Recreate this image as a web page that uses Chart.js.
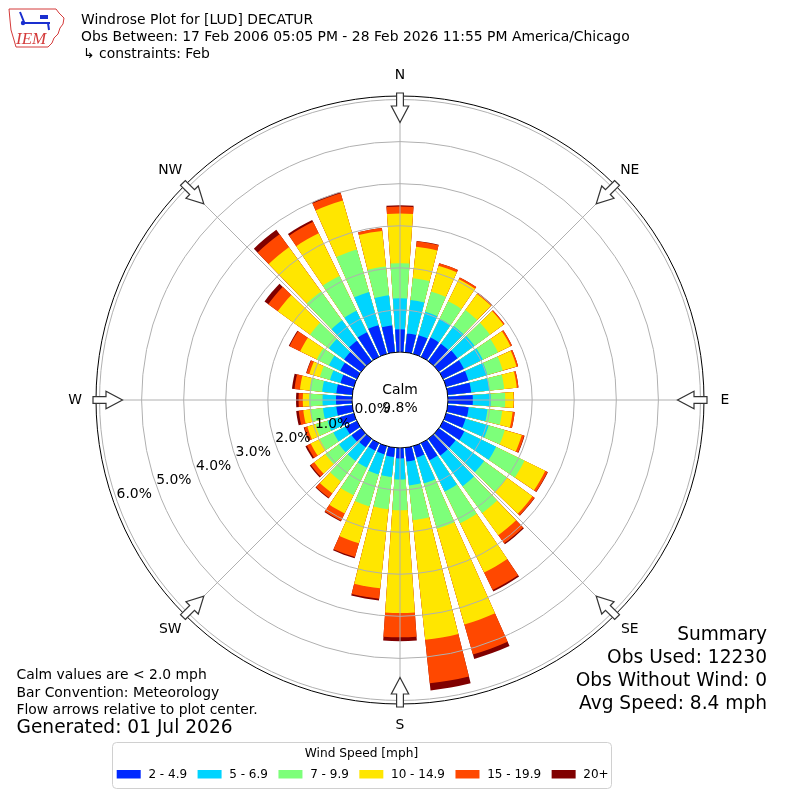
<!DOCTYPE html>
<html>

<head>
    <meta charset="UTF-8">
    <title>Windrose Plot for [LUD] DECATUR</title>
    <style>
        html, body {
            margin: 0;
            padding: 0;
            background: #ffffff;
        }

        #rose {
            display: block;
        }
    </style>
</head>

<body>
    <canvas id="rose" width="800" height="800"></canvas>
    <script src="https://cdn.jsdelivr.net/npm/chart.js"></script>

    <script>
        // direction bins, degrees from north
        const directions = [0, 10, 20, 30, 40, 50, 60, 70, 80, 90, 100, 110, 120, 130, 140, 150, 160, 170,
            180, 190, 200, 210, 220, 230, 240, 250, 260, 270, 280, 290, 300, 310, 320, 330, 340, 350];

        const speedBins = ["2 - 4.9", "5 - 6.9", "7 - 9.9", "10 - 14.9", "15 - 19.9", "20+"];
        const binColors = ["#0028ff", "#00d4ff", "#7dff7a", "#ffe600", "#ff4800", "#800000"];

        // percent of observations per direction for each speed bin
        const spd2to5 = [0.54, 0.45, 0.46, 0.51, 0.51, 0.55, 0.55, 0.55, 0.56, 0.59, 0.50, 0.48, 0.56, 0.49, 0.49, 0.45, 0.28, 0.33,
            0.25, 0.22, 0.20, 0.20, 0.25, 0.28, 0.30, 0.35, 0.38, 0.38, 0.38, 0.33, 0.44, 0.50, 0.60, 0.65, 0.71, 0.64];
        const spd5to7 = [0.74, 0.80, 0.58, 0.50, 0.52, 0.50, 0.50, 0.47, 0.44, 0.43, 0.45, 0.57, 0.84, 0.84, 0.90, 0.83, 0.64, 0.57,
            0.50, 0.48, 0.50, 0.45, 0.40, 0.37, 0.32, 0.30, 0.32, 0.32, 0.34, 0.26, 0.30, 0.45, 0.60, 0.57, 0.82, 0.72];
        const spd7to10 = [0.83, 0.52, 0.50, 0.46, 0.47, 0.45, 0.40, 0.38, 0.35, 0.34, 0.35, 0.40, 0.75, 0.67, 0.79, 0.84, 1.12, 0.83,
            0.73, 0.77, 0.79, 0.73, 0.60, 0.40, 0.36, 0.30, 0.30, 0.32, 0.30, 0.25, 0.32, 0.55, 0.85, 0.92, 1.05, 0.69];
        const spd10to15 = [1.18, 0.75, 0.64, 0.58, 0.47, 0.40, 0.33, 0.34, 0.30, 0.20, 0.25, 0.42, 0.55, 0.75, 0.65, 1.30, 2.37, 2.86,
            2.44, 1.89, 0.91, 0.48, 0.35, 0.33, 0.24, 0.20, 0.17, 0.15, 0.23, 0.26, 0.44, 0.95, 1.30, 1.13, 1.21, 0.85];
        const spd15to20 = [0.17, 0.13, 0.06, 0.05, 0.03, 0.03, 0.04, 0.04, 0.04, 0.01, 0.05, 0.06, 0.06, 0.06, 0.24, 0.46, 0.74, 1.04,
            0.58, 0.25, 0.34, 0.19, 0.13, 0.10, 0.10, 0.07, 0.11, 0.10, 0.13, 0.07, 0.28, 0.28, 0.38, 0.30, 0.18, 0.07];
        const spd20plus = [0.03, 0.01, 0.00, 0.00, 0.01, 0.00, 0.00, 0.00, 0.00, 0.00, 0.00, 0.01, 0.01, 0.01, 0.03, 0.04, 0.11, 0.17,
            0.09, 0.04, 0.03, 0.02, 0.02, 0.03, 0.04, 0.02, 0.06, 0.06, 0.06, 0.01, 0.02, 0.11, 0.13, 0.05, 0.03, 0.00];

        const radialTicks = [0, 1, 2, 3, 4, 5, 6];
        const compassNames = ["N", "NE", "E", "SE", "S", "SW", "W", "NW"];

        const calmPct = 9.8;
        const titleLines = [
            "Windrose Plot for [LUD] DECATUR",
            "Obs Between: 17 Feb 2006 05:05 PM - 28 Feb 2026 11:55 PM America/Chicago",
            "\u21b3 constraints: Feb"
        ];
        const noteLines = ["Calm values are < 2.0 mph", "Bar Convention: Meteorology", "Flow arrows relative to plot center."];
        const generatedText = "Generated: 01 Jul 2026";
        const summaryLines = ["Summary", "Obs Used: 12230", "Obs Without Wind: 0", "Avg Speed: 8.4 mph"];

        // bar opening: 8 deg bar, 2 deg gap in each 10 deg sector
        const barAngle = 8;
        const gapAngle = 2;

        const series = [spd2to5, spd5to7, spd7to10, spd10to15, spd15to20, spd20plus];

        // running totals so that the bins sit on top of each other
        const cumulative = [];
        let running = directions.map(() => 0);
        series.forEach((s) => {
            running = running.map((v, i) => v + s[i]);
            cumulative.push(running.slice());
        });

        // each direction is a bar element followed by an empty gap element
        const arcLabels = [];
        directions.forEach((d) => {
            arcLabels.push(d + "\u00b0");
            arcLabels.push("");
        });

        const datasets = cumulative.map((cum, k) => {
            const data = [];
            cum.forEach((v) => {
                data.push(v);
                data.push(0);
            });
            return {
                label: speedBins[k],
                data: data,
                angle: (c) => (c.dataIndex % 2 === 0 ? barAngle : gapAngle),
                backgroundColor: (c) => (c.dataIndex % 2 === 0 ? binColors[k] : "rgba(0,0,0,0)"),
                borderWidth: 0
            };
        });

        const FONT = "'DejaVu Sans', 'Liberation Sans', sans-serif";

        function text(ctx, str, x, y, size, align, color) {
            ctx.font = size + "px " + FONT;
            ctx.textAlign = align || "left";
            ctx.textBaseline = "middle";
            ctx.fillStyle = color || "#000000";
            ctx.fillText(str, x, y);
        }

        function polarPoint(s, bearing, r) {
            const a = bearing * Math.PI / 180;
            return [s.xCenter + r * Math.sin(a), s.yCenter - r * Math.cos(a)];
        }

        function drawLogo(ctx) {
            ctx.save();
            const outline = [[9, 9], [56, 9], [59, 13], [64, 18], [63, 24], [60, 28], [58, 34], [54, 38], [52, 43],
                [48, 47], [16, 47], [14, 40], [11, 30], [10, 20]];
            ctx.beginPath();
            outline.forEach((p, i) => (i === 0 ? ctx.moveTo(p[0], p[1]) : ctx.lineTo(p[0], p[1])));
            ctx.closePath();
            ctx.strokeStyle = "#d43a3a";
            ctx.lineWidth = 1;
            ctx.stroke();
            ctx.strokeStyle = "#1a2fcf";
            ctx.fillStyle = "#1a2fcf";
            ctx.lineWidth = 2;
            ctx.beginPath();
            ctx.moveTo(24, 23);
            ctx.lineTo(50, 23);
            ctx.moveTo(20, 12);
            ctx.lineTo(24, 22);
            ctx.moveTo(48, 23);
            ctx.lineTo(49, 30);
            ctx.stroke();
            ctx.fillRect(40, 15, 8, 4);
            ctx.beginPath();
            ctx.arc(23, 23, 2.2, 0, Math.PI * 2);
            ctx.fill();
            ctx.font = "italic 17px 'Liberation Serif', serif";
            ctx.textAlign = "left";
            ctx.textBaseline = "alphabetic";
            ctx.fillStyle = "#d43a3a";
            ctx.fillText("IEM", 16, 44);
            ctx.restore();
        }

        function drawArrow(ctx, s, bearing) {
            const R = s.drawingArea;
            const shape = [[R + 3, -3.4], [R - 10, -3.4], [R - 10, -8.7], [R - 26.5, 0], [R - 10, 8.7], [R - 10, 3.4], [R + 3, 3.4]];
            const a = bearing * Math.PI / 180;
            const ux = Math.sin(a), uy = -Math.cos(a);
            const px = Math.cos(a), py = Math.sin(a);
            ctx.beginPath();
            shape.forEach((p, i) => {
                const x = s.xCenter + ux * p[0] + px * p[1];
                const y = s.yCenter + uy * p[0] + py * p[1];
                if (i === 0) ctx.moveTo(x, y); else ctx.lineTo(x, y);
            });
            ctx.closePath();
            ctx.fillStyle = "#ffffff";
            ctx.fill();
            ctx.strokeStyle = "#333333";
            ctx.lineWidth = 1.2;
            ctx.stroke();
        }

        function drawLegend(ctx) {
            const box = { x: 112, y: 742, w: 499, h: 46 };
            ctx.save();
            ctx.beginPath();
            ctx.roundRect(box.x + 0.5, box.y + 0.5, box.w, box.h, 4);
            ctx.fillStyle = "#ffffff";
            ctx.fill();
            ctx.strokeStyle = "#d0d0d0";
            ctx.lineWidth = 1;
            ctx.stroke();
            text(ctx, "Wind Speed [mph]", box.x + box.w / 2, 753.5, 12.2, "center");
            ctx.font = "12px " + FONT;
            let x = 116.7;
            speedBins.forEach((label, i) => {
                ctx.fillStyle = binColors[i];
                ctx.fillRect(x, 770, 24, 8.5);
                text(ctx, label, x + 31.7, 775, 12, "left");
                x += 31.7 + ctx.measureText(label).width + 10.5;
            });
            ctx.restore();
        }

        const rosePlugin = {
            id: "rosePlugin",
            afterDatasetsDraw(chart) {
                // clear the calm circle in the middle of the rose
                const s = chart.scales.r;
                const ctx = chart.ctx;
                ctx.save();
                ctx.beginPath();
                ctx.arc(s.xCenter, s.yCenter, s.getDistanceFromCenterForValue(0), 0, Math.PI * 2);
                ctx.fillStyle = "#ffffff";
                ctx.fill();
                ctx.restore();
            },
            afterDraw(chart) {
                const s = chart.scales.r;
                const ctx = chart.ctx;
                const R = s.drawingArea;
                const r0 = s.getDistanceFromCenterForValue(0);
                ctx.save();

                // spokes every 45 deg
                ctx.strokeStyle = "#b0b0b0";
                ctx.lineWidth = 1;
                for (let b = 0; b < 360; b += 45) {
                    const p0 = polarPoint(s, b, r0);
                    const p1 = polarPoint(s, b, R);
                    ctx.beginPath();
                    ctx.moveTo(p0[0], p0[1]);
                    ctx.lineTo(p1[0], p1[1]);
                    ctx.stroke();
                }

                // outer frame
                ctx.beginPath();
                ctx.arc(s.xCenter, s.yCenter, R, 0, Math.PI * 2);
                ctx.strokeStyle = "#000000";
                ctx.lineWidth = 1;
                ctx.stroke();

                compassNames.forEach((name, i) => {
                    drawArrow(ctx, s, i * 45);
                    const p = polarPoint(s, i * 45, R + 21);
                    text(ctx, name, p[0], p[1], 13.9, "center");
                });

                // radial tick labels
                radialTicks.forEach((v) => {
                    const p = polarPoint(s, 250.5, s.getDistanceFromCenterForValue(v) - 18.5);
                    text(ctx, v.toFixed(1) + "%", p[0], p[1], 13.9, "center");
                });

                text(ctx, "Calm", s.xCenter, s.yCenter - 10, 13.9, "center");
                text(ctx, calmPct.toFixed(1) + "%", s.xCenter, s.yCenter + 8, 13.9, "center");

                // header
                drawLogo(ctx);
                text(ctx, titleLines[0], 81, 20.5, 13.9);
                text(ctx, titleLines[1], 81, 37, 13.9);
                text(ctx, titleLines[2], 83, 54, 13.9);

                // notes, bottom left
                noteLines.forEach((line, i) => text(ctx, line, 16.5, 675.5 + i * 17.6, 13.9));
                text(ctx, generatedText, 16.5, 728.5, 18.6);

                // summary, bottom right
                summaryLines.forEach((line, i) => text(ctx, line, 767, 635.5 + i * 23, 18.6, "right"));

                drawLegend(ctx);
                ctx.restore();
            }
        };

        // radius: 0 % sits on the calm circle, 42 px per percent
        const rMin = -1.1406;
        const rMax = 6.084;

        const rose = new Chart(document.getElementById("rose"), {
            type: "polarArea",
            data: {
                labels: arcLabels,
                datasets: datasets
            },
            options: {
                responsive: false,
                animation: false,
                events: [],
                layout: {
                    padding: 96
                },
                plugins: {
                    legend: { display: false },
                    tooltip: { enabled: false }
                },
                scales: {
                    r: {
                        min: rMin,
                        max: rMax,
                        startAngle: -barAngle / 2,
                        ticks: { display: false },
                        pointLabels: { display: false },
                        angleLines: { display: false },
                        grid: {
                            z: 1,
                            circular: true,
                            lineWidth: 1,
                            color: (c) => (c.tick && c.tick.value === 0 ? "#000000" : "#b0b0b0")
                        },
                        afterBuildTicks: (scale) => {
                            scale.ticks = radialTicks.map((v) => ({ value: v }));
                        }
                    }
                }
            },
            plugins: [rosePlugin]
        });
    </script>
</body>

</html>
